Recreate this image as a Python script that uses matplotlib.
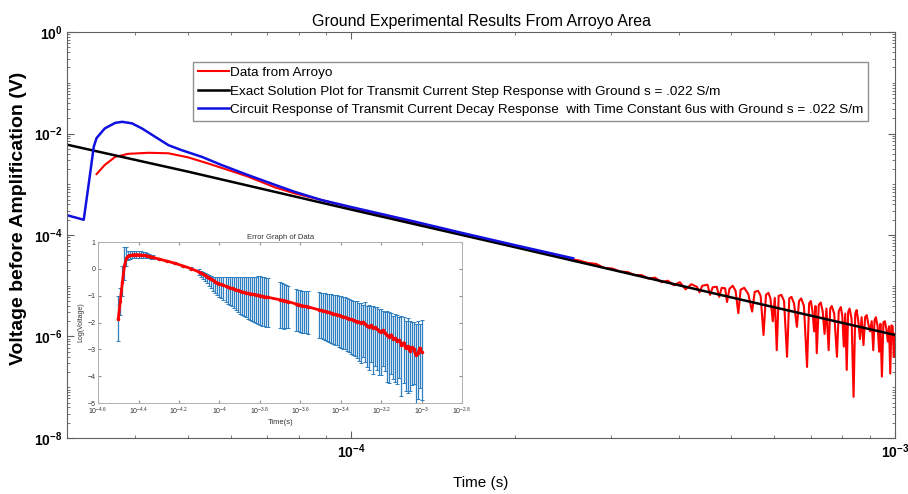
import numpy as np
import matplotlib
matplotlib.use('Agg')
import matplotlib.pyplot as plt
from matplotlib.ticker import LogLocator, FixedLocator, FixedFormatter, NullFormatter

plt.rcParams['font.family'] = ['Liberation Sans', 'DejaVu Sans']
plt.rcParams['mathtext.default'] = 'regular'

# ---- main plot data: time in microseconds, voltage as log10(V) ----
red_t = [34.0, 35.2, 36.8, 38.9, 42.4, 46.1, 50.1, 54.5, 59.4, 64.6, 72.3, 78.7, 88.1,
         100, 115, 130, 150, 170, 190, 210, 230, 250, 262, 272, 282, 292, 302, 312, 322,
         332, 342, 352, 362, 372, 382, 392, 402, 412, 422,
         432, 437, 442, 452, 457, 462, 470, 475, 480, 487, 491, 496, 503, 509, 515, 520,
         528, 537, 546, 552, 560, 566, 573, 579, 585, 590, 596, 601, 606, 611, 618, 625,
         633, 639, 645, 652, 660, 666, 672, 680, 689, 695, 700, 705, 710, 714, 718, 724,
         730, 736, 742, 748, 755, 760, 765, 773, 782, 788, 795, 800, 805, 810, 815, 820,
         825, 832, 839, 845, 850, 856, 862, 868, 875, 881, 887, 893, 900, 906, 912, 917,
         922, 929, 935, 940, 946, 952, 958, 964, 970, 975, 980, 985, 990, 995, 998]
red_logv = [-2.80, -2.62, -2.46, -2.40, -2.38, -2.39, -2.47, -2.59, -2.72, -2.85, -3.06, -3.18, -3.31,
            -3.46, -3.62, -3.76, -3.91, -4.05, -4.17, -4.28, -4.38, -4.47, -4.50, -4.55, -4.57, -4.65,
            -4.66, -4.72, -4.73, -4.79, -4.79, -4.86, -4.84, -4.93, -4.90, -4.99, -4.93, -5.07, -4.97,
            -5.02, -5.13, -5.00, -4.98, -5.18, -5.03, -5.02, -5.22, -5.04, -5.05, -5.32, -5.06, -5.00,
            -5.10, -5.54, -5.08, -5.04, -5.16, -5.51, -5.12, -5.10, -5.20, -5.97, -5.18, -5.14, -5.25,
            -5.70, -5.24, -6.27, -5.20, -5.18, -5.30, -6.40, -5.25, -5.22, -5.35, -5.81, -5.30, -5.25,
            -5.40, -6.60, -5.35, -5.30, -5.50, -5.90, -5.40, -6.33, -5.38, -5.33, -5.50, -5.95, -5.45,
            -6.27, -5.45, -5.40, -5.55, -6.40, -5.50, -5.42, -5.60, -6.20, -5.55, -6.66, -5.52, -5.45,
            -5.65, -7.19, -5.55, -5.48, -5.70, -6.05, -5.62, -6.17, -5.62, -5.58, -5.75, -5.90, -5.70,
            -6.27, -5.68, -5.62, -5.80, -6.30, -5.75, -6.79, -5.72, -5.70, -5.85, -6.10, -5.80, -6.73,
            -5.78, -5.80, -6.40, -5.95]

black_t = [30, 50, 100, 200, 500, 1000]
black_logv = [-2.22, -2.75, -3.50, -4.24, -5.23, -5.97]

blue_t = [30, 32.2, 32.9, 33.6, 34.0, 35.2, 36.8, 37.9, 39.5, 41.2, 43.5, 46.1, 48.8, 53.1,
          57.7, 64.6, 72.3, 78.7, 88.1, 100, 130, 160, 200, 256]
blue_logv = [-3.61, -3.70, -2.98, -2.26, -2.09, -1.90, -1.79, -1.77, -1.80, -1.90, -2.06, -2.23,
             -2.33, -2.46, -2.62, -2.82, -3.01, -3.15, -3.31, -3.45, -3.73, -3.96, -4.20, -4.46]

legend_labels = [
    'Data from Arroyo',
    'Exact Solution Plot for Transmit Current Step Response with Ground s = .022 S/m',
    'Circuit Response of Transmit Current Decay Response  with Time Constant 6us with Ground s = .022 S/m',
]

# ---- inset data: log10(time), log(voltage), lower / upper error ----
ins_logt = [-4.50, -4.49, -4.48, -4.47, -4.46, -4.45, -4.44, -4.43, -4.42, -4.41, -4.40, -4.39,
            -4.38, -4.37, -4.36, -4.35, -4.34, -4.33, -4.30, -4.26, -4.22, -4.18, -4.14,
            -4.10, -4.09, -4.08, -4.07, -4.06, -4.05, -4.04, -4.03, -4.02, -4.01, -4.00, -3.99,
            -3.98, -3.97, -3.96, -3.95, -3.94, -3.93, -3.92, -3.91, -3.90, -3.89, -3.88, -3.87,
            -3.86, -3.85, -3.84, -3.83, -3.82, -3.81, -3.80, -3.79, -3.78, -3.77, -3.76,
            -3.70, -3.69, -3.68, -3.67, -3.66,
            -3.62, -3.61, -3.60, -3.59, -3.58, -3.57, -3.56,
            -3.51, -3.50, -3.49, -3.48, -3.47, -3.46, -3.45, -3.44, -3.43, -3.42, -3.41, -3.40,
            -3.39, -3.38, -3.37, -3.36, -3.35, -3.34, -3.33, -3.32, -3.31, -3.30, -3.29, -3.28,
            -3.27, -3.26, -3.25, -3.24, -3.23, -3.22, -3.21, -3.20, -3.19, -3.18, -3.17, -3.16,
            -3.15, -3.14, -3.13, -3.12, -3.11, -3.10, -3.09, -3.08, -3.07, -3.06, -3.05, -3.04,
            -3.03, -3.02, -3.01, -3.00]
ins_logv = [-1.85, -1.20, -0.50, 0.10, 0.40, 0.48, 0.50, 0.52, 0.53, 0.53, 0.53, 0.52,
            0.51, 0.50, 0.49, 0.47, 0.45, 0.43, 0.37, 0.29, 0.21, 0.11, 0.01,
            -0.12, -0.16, -0.20, -0.24, -0.29, -0.33, -0.38, -0.43, -0.48, -0.52, -0.56, -0.58,
            -0.61, -0.64, -0.67, -0.70, -0.72, -0.75, -0.78, -0.80, -0.83, -0.85, -0.87, -0.89,
            -0.91, -0.92, -0.94, -0.95, -0.97, -0.98, -1.00, -1.01, -1.03, -1.05, -1.06,
            -1.15, -1.17, -1.18, -1.20, -1.22,
            -1.31, -1.33, -1.35, -1.37, -1.39, -1.40, -1.42,
            -1.52, -1.54, -1.56, -1.58, -1.60, -1.62, -1.65, -1.67, -1.69, -1.70, -1.73, -1.76,
            -1.78, -1.80, -1.83, -1.86, -1.88, -1.90, -1.93, -1.96, -1.97, -2.02, -1.98, -2.05,
            -2.12, -2.15, -2.10, -2.22, -2.18, -2.25, -2.30, -2.34, -2.28, -2.40, -2.48, -2.55,
            -2.45, -2.62, -2.58, -2.70, -2.65, -2.85, -2.75, -2.95, -2.88, -3.05, -2.92, -2.98,
            -3.20, -3.15, -2.95, -3.10]
ins_err_lo = [0.85, 0.50, 0.50, 0.50, 0.30, 0.15, 0.14, 0.13, 0.12, 0.12, 0.12, 0.12,
              0.11, 0.10, 0.09, 0.08, 0.07, 0.06, 0.04, 0.03, 0.03, 0.04, 0.06,
              0.12, 0.14, 0.17, 0.20, 0.25, 0.30, 0.35, 0.38, 0.42, 0.45, 0.48, 0.52,
              0.55, 0.58, 0.62, 0.65, 0.68, 0.72, 0.75, 0.80, 0.85, 0.88, 0.90, 0.92,
              0.95, 0.97, 1.00, 1.02, 1.05, 1.08, 1.10, 1.10, 1.10, 1.10, 1.10,
              1.05, 1.05, 1.05, 1.02, 1.00,
              1.00, 1.00, 1.00, 1.00, 1.00, 1.00, 1.00,
              1.05, 1.05, 1.05, 1.08, 1.10, 1.10, 1.10, 1.12, 1.14, 1.15, 1.18, 1.20,
              1.20, 1.20, 1.22, 1.25, 1.28, 1.30, 1.32, 1.35, 1.45, 1.50, 1.30, 1.40,
              1.55, 1.60, 1.35, 1.70, 1.45, 1.50, 1.65, 1.60, 1.35, 1.40, 1.75, 1.70,
              1.45, 1.50, 1.65, 1.60, 1.40, 1.90, 1.50, 1.60, 1.75, 1.50, 1.40, 1.30,
              1.80, 1.70, 1.50, 1.80]
ins_err_hi = [0.85, 0.50, 0.60, 0.70, 0.40, 0.18, 0.16, 0.15, 0.15, 0.14, 0.14, 0.14,
              0.13, 0.12, 0.11, 0.10, 0.08, 0.07, 0.04, 0.03, 0.03, 0.04, 0.06,
              0.10, 0.10, 0.10, 0.10, 0.10, 0.10, 0.10, 0.12, 0.16, 0.20, 0.24, 0.27,
              0.30, 0.33, 0.37, 0.40, 0.42, 0.44, 0.46, 0.50, 0.53, 0.55, 0.56, 0.58,
              0.60, 0.62, 0.64, 0.66, 0.68, 0.70, 0.72, 0.72, 0.73, 0.72, 0.72,
              0.65, 0.64, 0.62, 0.61, 0.60,
              0.55, 0.55, 0.55, 0.55, 0.56, 0.57, 0.58,
              0.65, 0.65, 0.66, 0.67, 0.68, 0.69, 0.70, 0.70, 0.71, 0.72, 0.73, 0.74,
              0.74, 0.75, 0.75, 0.75, 0.72, 0.70, 0.74, 0.78, 0.70, 0.75, 0.65, 0.80,
              0.72, 0.80, 0.70, 0.85, 0.75, 0.82, 0.80, 0.85, 0.70, 0.80, 0.90, 0.95,
              0.80, 0.85, 0.90, 1.00, 0.85, 1.10, 0.95, 1.00, 1.05, 1.10, 0.95, 1.00,
              1.15, 1.20, 0.90, 1.20]
ins_xtick_exp = [-4.6, -4.4, -4.2, -4, -3.8, -3.6, -3.4, -3.2, -3, -2.8]
ins_yticks = [1, 0, -1, -2, -3, -4, -5]

fig = plt.figure(figsize=(9.08, 4.94), dpi=100)
ax = fig.add_axes([0.0738, 0.1134, 0.9119, 0.8218])

ax.plot(np.array(red_t) * 1e-6, 10 ** np.array(red_logv), color='#ff0000', lw=1.5,
        label=legend_labels[0])
ax.plot(np.array(black_t) * 1e-6, 10 ** np.array(black_logv), color='black', lw=1.8,
        label=legend_labels[1])
ax.plot(np.array(blue_t) * 1e-6, 10 ** np.array(blue_logv), color='#1010e0', lw=1.8,
        label=legend_labels[2])

ax.set_xscale('log')
ax.set_yscale('log')
ax.set_xlim(3e-5, 1e-3)
ax.set_ylim(1e-8, 1e0)
ax.yaxis.set_major_locator(FixedLocator([1e-8, 1e-6, 1e-4, 1e-2, 1e0]))
ax.yaxis.set_minor_locator(LogLocator(base=10, subs=np.arange(1, 10), numticks=100))
ax.yaxis.set_minor_formatter(NullFormatter())
ax.xaxis.set_minor_locator(LogLocator(base=10, subs=np.arange(2, 10), numticks=100))
ax.xaxis.set_minor_formatter(NullFormatter())
ax.tick_params(which='both', direction='in', top=True, right=True, color='#606060')
ax.tick_params(which='major', length=5, labelsize=10)
ax.tick_params(which='minor', length=2.5)
for lab in ax.get_xticklabels() + ax.get_yticklabels():
    lab.set_fontweight('bold')
for s in ax.spines.values():
    s.set_color('#606060')

ax.set_title('Ground Experimental Results From Arroyo Area', fontsize=11.5, pad=4)
ax.set_ylabel('Voltage before Amplification (V)', fontsize=14, fontweight='bold')
ax.set_xlabel('Time (s)', fontsize=11)
ax.yaxis.set_label_coords(-0.048, 0.54)
ax.xaxis.set_label_coords(0.5, -0.093)

leg = ax.legend(loc='upper left', bbox_to_anchor=(0.152, 0.926), fontsize=9.7,
                fancybox=False, framealpha=1, edgecolor='#909090', handlelength=2.3,
                handletextpad=0.1, labelspacing=0.45, borderpad=0.35, borderaxespad=0)
leg.get_frame().set_linewidth(1.0)

# ---- inset error graph ----
axi = fig.add_axes([0.108, 0.184, 0.401, 0.326])
axi.errorbar(10 ** np.array(ins_logt), ins_logv, yerr=[ins_err_lo, ins_err_hi],
             fmt='none', ecolor='#2f7fc1', elinewidth=0.9, capsize=1.2, capthick=0.7)
axi.plot(10 ** np.array(ins_logt), ins_logv, color='#ff0000', lw=2.0, marker='.', ms=3)
axi.set_xscale('log')
axi.set_xlim(10 ** -4.6, 10 ** -2.8)
axi.set_ylim(-5, 1)
axi.xaxis.set_major_locator(FixedLocator([10 ** e for e in ins_xtick_exp]))
axi.xaxis.set_major_formatter(FixedFormatter(['$10^{%g}$' % e for e in ins_xtick_exp]))
axi.xaxis.set_minor_locator(FixedLocator([]))
axi.set_yticks(ins_yticks)
axi.tick_params(which='both', direction='in', top=True, right=True, labelsize=5,
                length=2, color='#909090', labelcolor='#333333', pad=2)
for s in axi.spines.values():
    s.set_color('#b0b0b0')
    s.set_linewidth(0.7)
axi.set_title('Error Graph of Data', fontsize=5.5, pad=2, color='#333333')
axi.set_xlabel('Time(s)', fontsize=5.5, labelpad=1, color='#333333')
axi.set_ylabel('Log(Voltage)', fontsize=5, labelpad=2, color='#333333')

fig.savefig('out.png', dpi=100)
